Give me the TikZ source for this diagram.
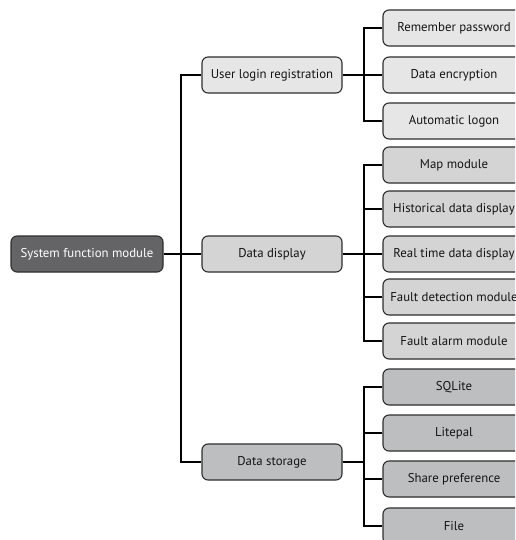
\documentclass[tikz,border=0pt]{standalone}
\usepackage{fontspec}
\setmainfont{PT Sans}
\definecolor{rootfill}{HTML}{646466}
\definecolor{fillA}{HTML}{E6E6E6}
\definecolor{fillB}{HTML}{D4D4D5}
\definecolor{fillC}{HTML}{BDBEC0}
\definecolor{edgecol}{HTML}{2E2E2E}
\tikzset{
  box/.style={draw=edgecol, line width=1.1pt, rounded corners=6pt, minimum height=36pt,
    inner sep=0pt, font=\fontsize{12.8}{15}\selectfont, text=black!92},
  rootbox/.style={box, fill=rootfill, text=white, minimum width=152pt},
  midbox/.style={box, minimum width=140pt},
  leafbox/.style={box, minimum width=142pt},
  link/.style={draw=black, line width=1.6pt, line join=miter},
}
\begin{document}
\begin{tikzpicture}[x=1pt,y=-1pt]
\useasboundingbox (0,0) rectangle (515,540);
\clip (0,0) rectangle (515,540);
\fill[white] (0,0) rectangle (515,540);
% root
\node[rootbox] (root) at (87,254) {System function module};
% level 2
\node[midbox, fill=fillA] (ulr) at (272,75) {User login registration};
\node[midbox, fill=fillB] (dd) at (272,254) {Data display};
\node[midbox, fill=fillC] (ds) at (272,462) {Data storage};
% leaves group A
\node[leafbox, fill=fillA] (a1) at (454,28) {Remember password};
\node[leafbox, fill=fillA] (a2) at (454,75) {Data encryption};
\node[leafbox, fill=fillA] (a3) at (454,121) {Automatic logon};
% leaves group B
\node[leafbox, fill=fillB] (b1) at (454,165) {Map module};
\node[leafbox, fill=fillB] (b2) at (454,209) {Historical data display};
\node[leafbox, fill=fillB] (b3) at (454,254) {Real time data display};
\node[leafbox, fill=fillB] (b4) at (454,297) {Fault detection module};
\node[leafbox, fill=fillB] (b5) at (454,341) {Fault alarm module};
% leaves group C
\node[leafbox, fill=fillC] (c1) at (454,387) {SQLite};
\node[leafbox, fill=fillC] (c2) at (454,433) {Litepal};
\node[leafbox, fill=fillC] (c3) at (454,479) {Share preference};
\node[leafbox, fill=fillC] (c4) at (454,526) {File};
% connector columns
\coordinate (tx) at (181,0);
\coordinate (bx) at (364,0);
% trunk
\draw[link] (ulr.west) -- (tx |- ulr.west) -- (tx |- ds.west) -- (ds.west);
\draw[link] (root.east) -- (tx |- root.east) -- (dd.west);
% group A
\draw[link] (a1.west) -- (bx |- a1.west) -- (bx |- a3.west) -- (a3.west);
\draw[link] (ulr.east) -- (bx |- ulr.east) -- (a2.west);
% group B
\draw[link] (b1.west) -- (bx |- b1.west) -- (bx |- b5.west) -- (b5.west);
\draw[link] (dd.east) -- (bx |- dd.east) -- (b3.west);
\draw[link] (bx |- b2.west) -- (b2.west);
\draw[link] (bx |- b4.west) -- (b4.west);
% group C
\draw[link] (c1.west) -- (bx |- c1.west) -- (bx |- c4.west) -- (c4.west);
\draw[link] (ds.east) -- (bx |- ds.east);
\draw[link] (bx |- c2.west) -- (c2.west);
\draw[link] (bx |- c3.west) -- (c3.west);
\end{tikzpicture}
\end{document}
